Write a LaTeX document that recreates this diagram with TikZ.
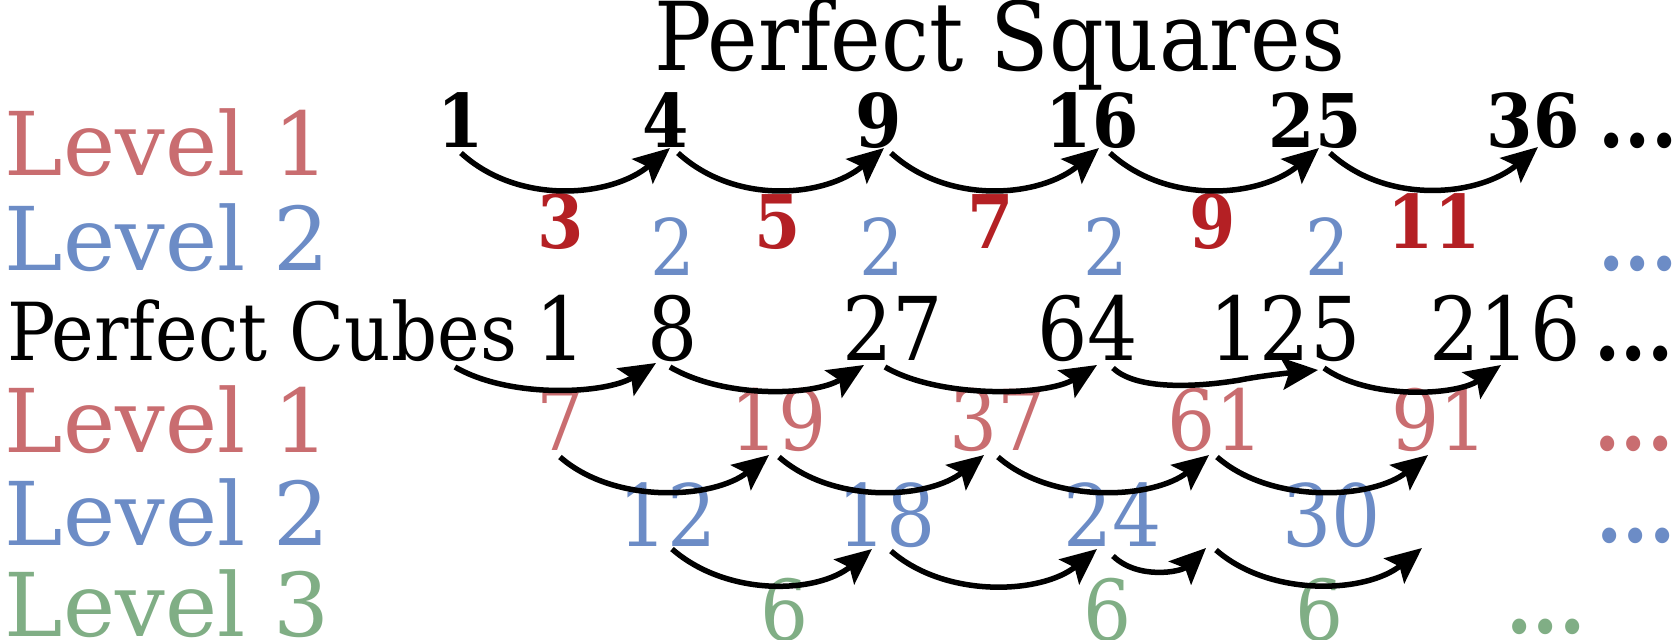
\documentclass[tikz,border=0pt]{standalone}
\usepackage{fontspec}
\setmainfont{DejaVuSerifCondensed}[Extension=.ttf, BoldFont=DejaVuSerifCondensed-Bold]
\newfontfamily\widefont{DejaVuSerif}[Extension=.ttf, BoldFont=DejaVuSerif-Bold]
\usetikzlibrary{arrows.meta}
\definecolor{lvlred}{HTML}{C96D70}
\definecolor{lvlblue}{HTML}{6C8CC6}
\definecolor{lvlgreen}{HTML}{80AE85}
\definecolor{boldred}{HTML}{B42024}
\newcommand\fsz[1]{\fontsize{#1}{#1}\selectfont}
\begin{document}
\begin{tikzpicture}[x=1pt,y=-1pt,
  every node/.style={inner sep=0pt, outer sep=0pt},
  lbl/.style={anchor=base west, font=\widefont\fsz{88}},
  sq/.style={anchor=base, font=\fsz{74}\bfseries},
  sqd/.style={anchor=base, font=\fsz{74}\bfseries, text=boldred},
  cu/.style={anchor=base, font=\fsz{88}},
  dif/.style={anchor=base, font=\fsz{78}},
  difb/.style={anchor=base, font=\fsz{84}},
  difc/.style={anchor=base, font=\fsz{86}},
  dots/.style={anchor=base, font=\fsz{84}\bfseries},
  arr/.style={line width=5.5pt, -{Stealth[length=36pt,width=32pt,inset=7pt]}},
]
\useasboundingbox (0,0) rectangle (1679,640);
% titles and labels
\node[anchor=base, font=\fsz{95}] (title) at (1000,70) {Perfect Squares};
\node[lbl, text=lvlred] (la1) at (5,175) {Level 1};
\node[lbl, text=lvlblue] (la2) at (5,270) {Level 2};
\node[lbl, font=\fsz{80}] (pc) at (7,360) {Perfect Cubes};
\node[lbl, text=lvlred] (lb1) at (5,452) {Level 1};
\node[lbl, text=lvlblue] (lb2) at (5,545) {Level 2};
\node[lbl, text=lvlgreen] (lb3) at (5,636) {Level 3};
% squares
\node[sq] (s1) at (461,147) {1};
\node[sq] (s4) at (666,147) {4};
\node[sq] (s9) at (879,147) {9};
\node[sq] (s16) at (1092,147) {16};
\node[sq] (s25) at (1315,147) {25};
\node[sq] (s36) at (1533,147) {36};
\node[dots] (sdots) at (1638,147) {...};
% first differences of squares
\node[sqd] (d3) at (561,248) {3};
\node[sqd] (d5) at (778,248) {5};
\node[sqd] (d7) at (991,248) {7};
\node[sqd] (d9) at (1213,248) {9};
\node[sqd] (d11) at (1434,248) {11};
% second differences of squares
\node[dif, text=lvlblue] (e1) at (673,275) {2};
\node[dif, text=lvlblue] (e2) at (882,275) {2};
\node[dif, text=lvlblue] (e3) at (1106,275) {2};
\node[dif, text=lvlblue] (e4) at (1328,275) {2};
\node[dots, text=lvlblue] (edots) at (1638,270) {...};
% cubes
\node[cu] (c1) at (561,360) {1};
\node[cu] (c8) at (673,360) {8};
\node[cu] (c27) at (893,360) {27};
\node[cu] (c64) at (1088,360) {64};
\node[cu] (c125) at (1285,360) {125};
\node[cu] (c216) at (1505,360) {216};
\node[dots] (cdots) at (1634,360) {...};
% level 1 of cubes
\node[difb, text=lvlred] (r7) at (561,450) {7};
\node[difb, text=lvlred] (r19) at (779,450) {19};
\node[difb, text=lvlred] (r37) at (998,450) {37};
\node[difb, text=lvlred] (r61) at (1216,450) {61};
\node[difb, text=lvlred] (r91) at (1440,450) {91};
\node[dots, text=lvlred] (rdots) at (1634,450) {...};
% level 2 of cubes
\node[difc, text=lvlblue] (b12) at (668,546) {12};
\node[difc, text=lvlblue] (b18) at (887,546) {18};
\node[difc, text=lvlblue] (b24) at (1113,546) {24};
\node[difc, text=lvlblue] (b30) at (1332,546) {30};
\node[dots, text=lvlblue] (bdots) at (1636,542) {...};
% level 3 of cubes
\node[difb, text=lvlgreen] (g1) at (785,640) {6};
\node[difb, text=lvlgreen] (g2) at (1108,640) {6};
\node[difb, text=lvlgreen] (g3) at (1320,640) {6};
\node[dots, text=lvlgreen] (gdots) at (1546,633) {...};
% helper coordinates
\coordinate (b4m) at (1240,380);
\coordinate (d3e) at (1206,548);
\coordinate (d4s) at (1216,550);
\coordinate (d4e) at (1422,548);
% squares arrows
\draw[arr] ([shift={(0,6)}]s1.base) .. controls +(58,53) and +(-58,49) .. ([shift={(4,1)}]s4.base);
\draw[arr] ([shift={(12,6)}]s4.base) .. controls +(58,53) and +(-58,49) .. ([shift={(5,1)}]s9.base);
\draw[arr] ([shift={(12,6)}]s9.base) .. controls +(58,53) and +(-58,49) .. ([shift={(7,1)}]s16.base);
\draw[arr] ([shift={(18,6)}]s16.base) .. controls +(58,53) and +(-58,49) .. ([shift={(4,1)}]s25.base);
\draw[arr] ([shift={(15,6)}]s25.base) .. controls +(58,53) and +(-58,49) .. ([shift={(5,0)}]s36.base);
% cubes arrows
\draw[arr] ([shift={(448,7)}]pc.base west) .. controls +(55,32) and +(-50,31) .. ([shift={(-17,3)}]c8.base);
\draw[arr] ([shift={(-3,7)}]c8.base) .. controls +(55,32) and +(-50,31) .. ([shift={(-29,5)}]c27.base);
\draw[arr] ([shift={(-8,7)}]c27.base) .. controls +(55,32) and +(-50,31) .. ([shift={(9,5)}]c64.base);
\draw[arr] ([shift={(25,8)}]c64.base) .. controls +(25,24) and +(-35,6) .. (b4m) .. controls +(20,-4) and +(-30,3) .. ([shift={(33,10)}]c125.base);
\draw[arr] ([shift={(39,8)}]c125.base) .. controls +(45,32) and +(-45,31) .. ([shift={(-4,5)}]c216.base);
% level 1 arrows
\draw[arr] ([shift={(-1,7)}]r7.base) .. controls +(55,48) and +(-55,44) .. ([shift={(-10,5)}]r19.base);
\draw[arr] ([shift={(0,7)}]r19.base) .. controls +(55,48) and +(-55,44) .. ([shift={(-14,5)}]r37.base);
\draw[arr] ([shift={(0,7)}]r37.base) .. controls +(55,48) and +(-55,44) .. ([shift={(-7,5)}]r61.base);
\draw[arr] ([shift={(1,7)}]r61.base) .. controls +(55,48) and +(-55,44) .. ([shift={(-12,5)}]r91.base);
% level 2 arrows
\draw[arr] ([shift={(4,3)}]b12.base) .. controls +(55,48) and +(-55,45) .. ([shift={(-15,3)}]b18.base);
\draw[arr] ([shift={(4,5)}]b18.base) .. controls +(55,48) and +(-55,45) .. ([shift={(-16,3)}]b24.base);
\draw[arr] ([shift={(0,10)}]b24.base) .. controls +(25,24) and +(-25,24) .. (d3e);
\draw[arr] (d4s) .. controls +(55,48) and +(-55,45) .. (d4e);
\end{tikzpicture}
\end{document}
